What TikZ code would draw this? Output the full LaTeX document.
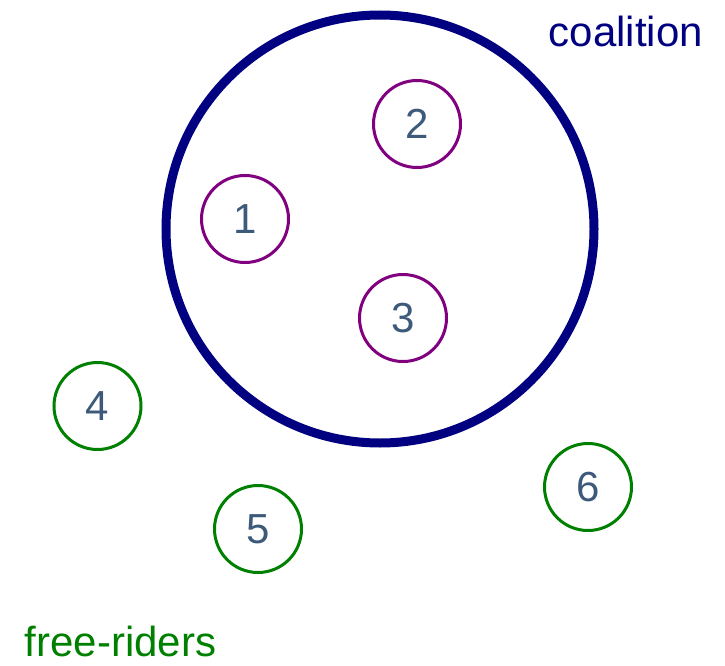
\documentclass[tikz,border=0pt]{standalone}
\usepackage{fontspec}
\setmainfont{Liberation Sans}
\definecolor{navyc}{HTML}{000080}
\definecolor{purp}{HTML}{800080}
\definecolor{grn}{HTML}{008000}
\definecolor{digit}{HTML}{3E5A7A}
\begin{document}
\begin{tikzpicture}[x=1pt,y=-1pt,
  member/.style={circle,draw=purp,line width=3pt,minimum size=87pt,inner sep=0pt,text=digit,font=\fontsize{42}{48}\selectfont},
  rider/.style={member,draw=grn},
  lbl/.style={inner sep=0pt,anchor=base,font=\fontsize{42}{50}\selectfont}]
\useasboundingbox[fill=white] (0,0) rectangle (725,666);
\node[circle,draw=navyc,line width=9pt,minimum size=428pt,inner sep=0pt] (coal) at (380,229) {};
\node[member] (n1) at (245,219) {1};
\node[member] (n2) at (417,124) {2};
\node[member] (n3) at (403,318) {3};
\node[rider] (n4) at (97.5,406) {4};
\node[rider] (n5) at (258,529) {5};
\node[rider] (n6) at (588,487) {6};
\node[lbl,text=navyc] (tc) at (626,47) {coalition};
\node[lbl,text=grn] (tf) at (120.5,656) {free-riders};
\end{tikzpicture}
\end{document}
